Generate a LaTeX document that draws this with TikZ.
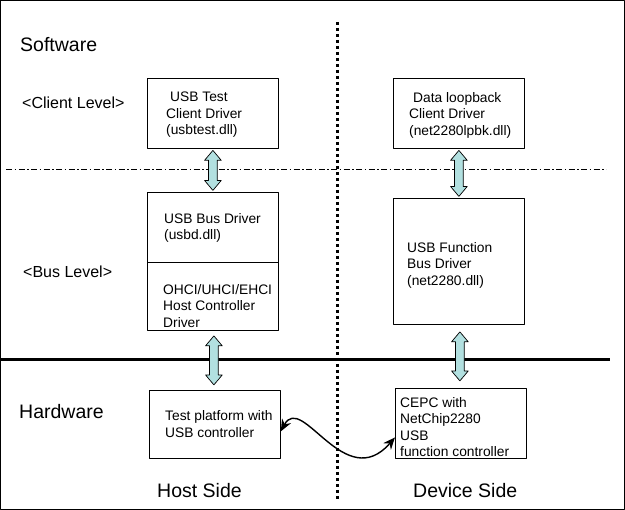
\documentclass[tikz,border=0pt]{standalone}
\usepackage{fontspec}
\setmainfont{Liberation Sans}
\usetikzlibrary{shapes.arrows,arrows.meta,calc}
\definecolor{arrowfill}{RGB}{178,224,224}

\begin{document}
\begin{tikzpicture}[x=1pt,y=-1pt,line join=round,
	box/.style={draw,line width=.8pt,anchor=north west,inner sep=0pt,minimum width=131},
	txt/.style={anchor=west,align=left,inner sep=0pt,font=\fontsize{13.8}{16.5}\selectfont},
	lvl/.style={anchor=base west,inner sep=0pt,font=\fontsize{16}{19}\selectfont},
	big/.style={anchor=base west,inner sep=0pt,font=\fontsize{19.5}{23}\selectfont},
	dbl/.style={double arrow,draw,line width=.7pt,rotate=90,inner xsep=0pt,inner ysep=4pt,double arrow head extend=4pt,double arrow tip angle=80,fill=arrowfill}]
			\useasboundingbox (0,0) rectangle (625,510);
			\draw[line width=1pt] (.5,.5) rectangle (624.5,509.5);
			\node[big] (sw) at (20,52) {Software};
			\node[lvl] (cl) at (22,109) {<Client Level>};
			\node[lvl] (bl) at (23,278) {<Bus Level>};
			\node[big] (hw) at (19,419) {Hardware};
			\node[big] (host) at (157,498) {Host Side};
			\node[big] (dev) at (413,498) {Device Side};
			\node[box,minimum height=70] (client) at (147,78) {};
			\node[box,minimum height=70] (busdrv) at (147,192) {};
			\node[box,minimum height=68] (ohci) at (147,262) {};
			\node[box,minimum height=68] (hostpf) at (149,390) {};
			\node[box,minimum height=70] (loopback) at (393,78) {};
			\node[box,minimum height=126] (usbfn) at (393,198) {};
			\node[box,minimum height=70] (cepc) at (395,388) {};
			\node[txt] (client-t) at (166,115) {\hspace*{4pt}USB Test\\Client Driver\\(usbtest.dll)};
			\node[txt] (busdrv-t) at (164,228) {USB Bus Driver\\(usbd.dll)};
			\node[txt] (ohci-t) at (163,306) {OHCI/UHCI/EHCI\\Host Controller\\Driver};
			\node[txt] (hostpf-t) at (165,424) {Test platform with\\USB controller};
			\node[txt] (loopback-t) at (409,115) {\hspace*{4pt}Data loopback\\Client Driver\\(net2280lpbk.dll)};
			\node[txt] (usbfn-t) at (407,265) {USB Function\\Bus Driver\\(net2280.dll)};
			\node[txt] (cepc-t) at (400,427) {CEPC with\\NetChip2280\\USB\\function controller};
			\draw[line width=.7pt,dash pattern=on 6pt off 2.5pt on 1.5pt off 2.5pt] (6,169) -- (606,169);
			\draw[line width=3pt] (0,360) -- (610,360);
			\draw[line width=3pt,dash pattern=on 3pt off 3pt] (337,22) -- (337,500);
			\node[dbl,minimum height=40] (a1) at ($(client.south)!.5!(busdrv.north)$) {};
			\node[dbl,minimum height=49] (a2) at ($(ohci.south)!.5!(hostpf.north)$) {};
			\node[dbl,minimum height=46] (a3) at ($(loopback.south)!.5!(usbfn.north)$) {};
			\node[dbl,minimum height=49] (a4) at ($(usbfn.south)!.5!(cepc.north)$) {};
			\draw[line width=1.4pt,{Stealth[length=12pt,width=10pt]}-{Stealth[length=12pt,width=10pt]}] ([yshift=-7pt]hostpf.east) .. controls (302,392) and (345,495) .. ([yshift=-14pt]cepc.west);
\end{tikzpicture}
\end{document}
